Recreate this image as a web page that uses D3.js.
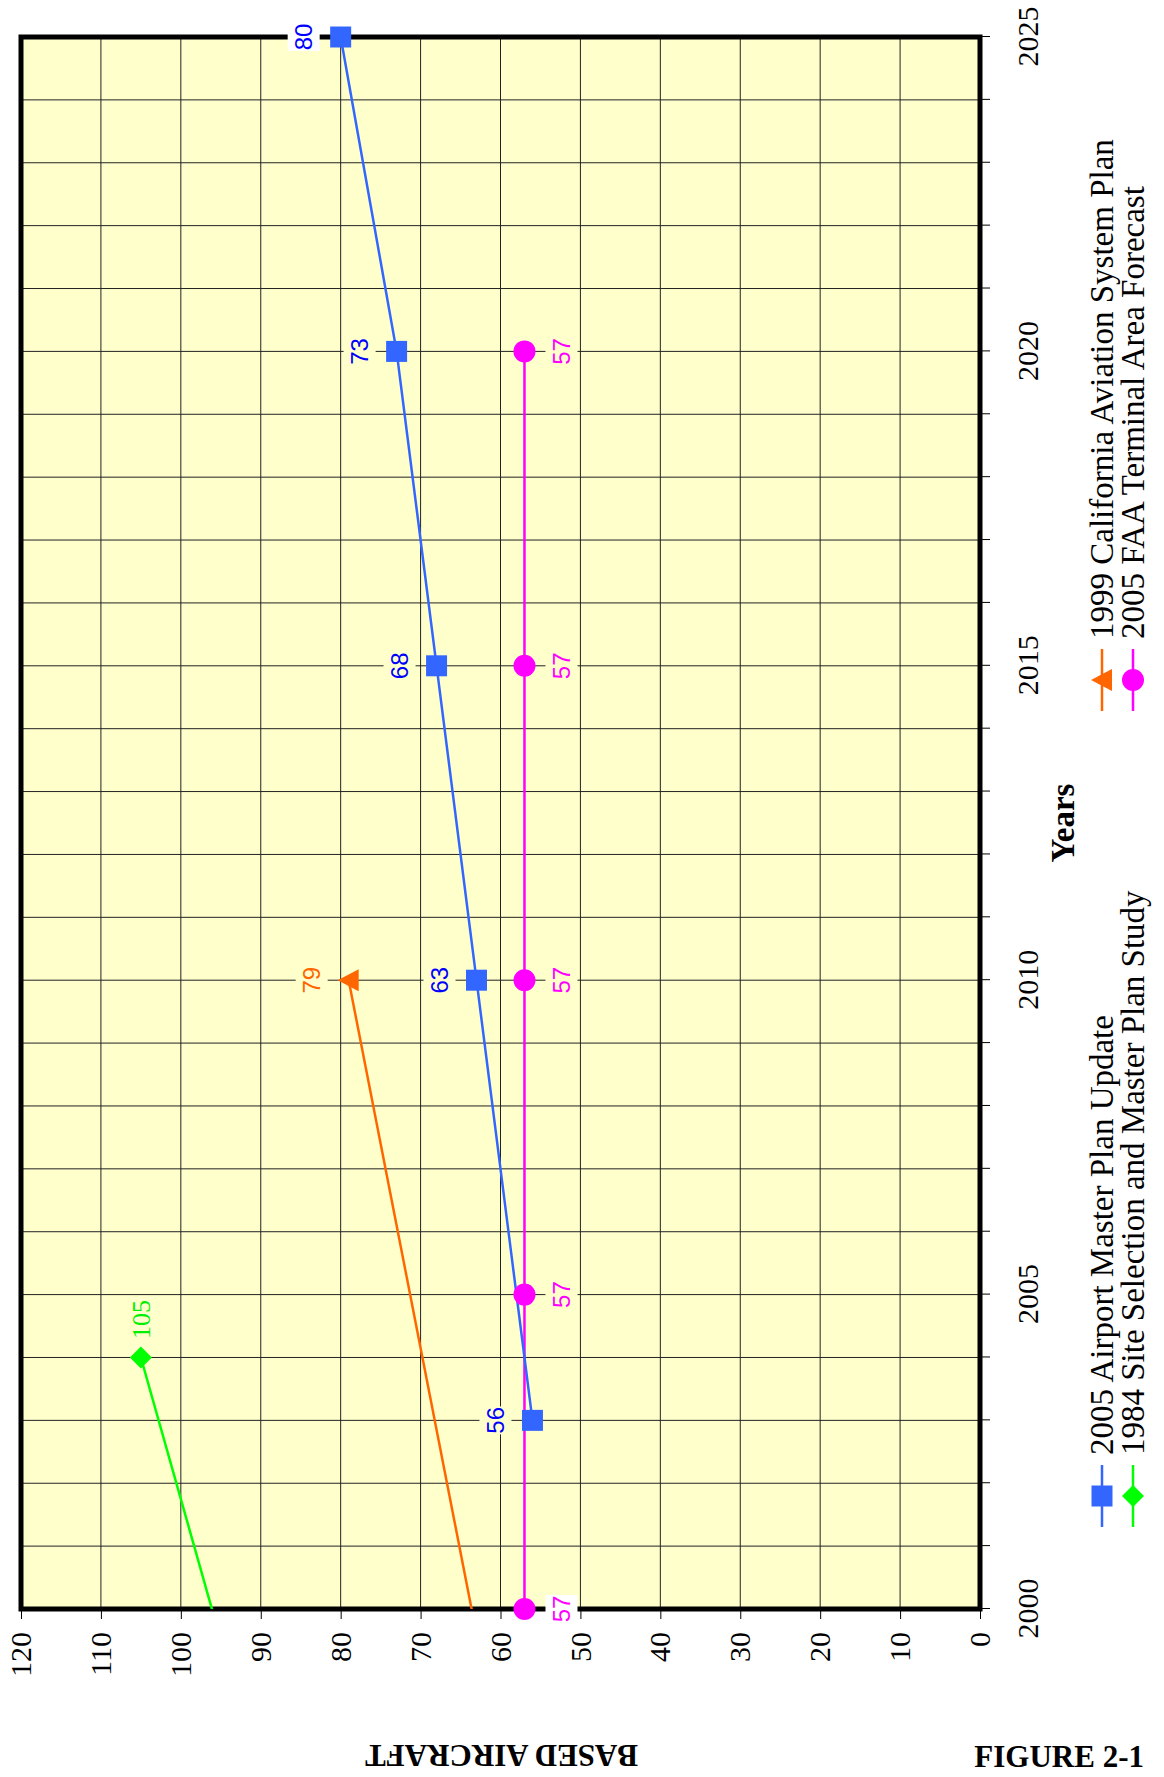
<!DOCTYPE html>
<html>
<head>
<meta charset="utf-8">
<script src="https://cdn.jsdelivr.net/npm/d3@7"></script>
<style>
  body { margin: 0; background: #fff; }
  svg { display: block; }
</style>
</head>
<body>
<div id="chart"></div>
<script>
// values
const ampYears = [2003, 2010, 2015, 2020, 2025];
const ampValues = [56, 63, 68, 73, 80];
const caspYears = [1997, 2010];          // first point lies left of the plot, only the line shows
const caspValues = [59, 79];
const siteYears = [1995, 2004];          // same here
const siteValues = [85, 105];
const tafYears = [2000, 2005, 2010, 2015, 2020];
const tafValues = [57, 57, 57, 57, 57];

const yearLabels = [2000, 2005, 2010, 2015, 2020, 2025];
const valueLabels = [0, 10, 20, 30, 40, 50, 60, 70, 80, 90, 100, 110, 120];
const legendNames = [
  "2005 Airport Master Plan Update",
  "1999 California Aviation System Plan",
  "1984 Site Selection and Master Plan Study",
  "2005 FAA Terminal Area Forecast"
];

const serif = "'Liberation Serif', 'Times New Roman', serif";
const sans = "'Liberation Sans', Arial, sans-serif";
const bgColor = "#FFFFCC";

// chart is drawn unrotated, then the whole group is turned -90deg like the printed page
const W = 1572, H = 959;

const svg = d3.select("#chart").append("svg")
  .attr("width", 1164)
  .attr("height", 1777);

const g = svg.append("g")
  .attr("transform", "translate(21,1609) rotate(-90)");

const x = d3.scaleLinear().domain([2000, 2025]).range([0, W]);
const y = d3.scaleLinear().domain([0, 120]).range([H, 0]);

// series setup
const series = [
  { name: legendNames[3], years: tafYears, values: tafValues, color: "#FF00FF", text: "#FF00FF",
    shape: "circle", side: "below", font: sans },
  { name: legendNames[2], years: siteYears, values: siteValues, color: "#00FF00", text: "#00EE00",
    shape: "diamond", side: "right", font: serif, noBox: true },
  { name: legendNames[1], years: caspYears, values: caspValues, color: "#FF6600", text: "#FF6600",
    shape: "triangle", side: "above", font: sans },
  { name: legendNames[0], years: ampYears, values: ampValues, color: "#3366FF", text: "#0000FF",
    shape: "square", side: "above", font: sans }
];
series.forEach(s => {
  s.points = s.years.map((yr, i) => ({ year: yr, value: s.values[i] }));
});

function shapePath(shape) {
  if (shape === "square") return "M-10.5,-10.5H10.5V10.5H-10.5Z";
  if (shape === "circle") return "M-11,0A11,11 0 1,0 11,0A11,11 0 1,0 -11,0Z";
  if (shape === "diamond") return "M0,-11L11,0L0,11L-11,0Z";
  return "M0,-11L11,10L-11,10Z"; // triangle
}

// background
g.append("rect")
  .attr("width", W)
  .attr("height", H)
  .attr("fill", bgColor);

// grid
g.append("g")
  .selectAll("line")
  .data(d3.range(2000, 2026))
  .join("line")
  .attr("x1", d => x(d)).attr("x2", d => x(d))
  .attr("y1", 0).attr("y2", H)
  .attr("stroke", "#222")
  .attr("stroke-width", 1);

g.append("g")
  .selectAll("line")
  .data(valueLabels)
  .join("line")
  .attr("x1", 0).attr("x2", W)
  .attr("y1", d => y(d)).attr("y2", d => y(d))
  .attr("stroke", "#222")
  .attr("stroke-width", 1);

// axes
const xTicks = g.append("g")
  .attr("transform", `translate(0,${H})`)
  .call(d3.axisBottom(x).tickValues(d3.range(2000, 2026)).tickSize(10).tickFormat(""));
xTicks.select(".domain").remove();

const xLab = g.append("g")
  .attr("transform", `translate(0,${H})`)
  .call(d3.axisBottom(x).tickValues(yearLabels).tickSize(0).tickPadding(37).tickFormat(d3.format("d")));
xLab.select(".domain").remove();
xLab.selectAll("text")
  .attr("font-family", serif)
  .attr("font-size", 30)
  .attr("fill", "#000");

const yAx = g.append("g")
  .call(d3.axisLeft(y).tickValues(valueLabels).tickSize(10).tickPadding(13));
yAx.select(".domain").remove();
yAx.selectAll("text")
  .attr("font-family", serif)
  .attr("font-size", 30)
  .attr("fill", "#000");

// frame
g.append("rect")
  .attr("width", W)
  .attr("height", H)
  .attr("fill", "none")
  .attr("stroke", "#000")
  .attr("stroke-width", 5);

// lines
g.append("clipPath").attr("id", "plotclip")
  .append("rect").attr("width", W).attr("height", H);

const line = d3.line()
  .x(d => x(d.year))
  .y(d => y(d.value));

g.append("g")
  .attr("clip-path", "url(#plotclip)")
  .selectAll("path")
  .data(series)
  .join("path")
  .attr("d", s => line(s.points))
  .attr("fill", "none")
  .attr("stroke", s => s.color)
  .attr("stroke-width", 2.5);

// markers
series.forEach(s => {
  g.append("g")
    .selectAll("path")
    .data(s.points.filter(p => p.year >= 2000 && p.year <= 2025))
    .join("path")
    .attr("transform", p => `translate(${x(p.year)},${y(p.value)})`)
    .attr("d", shapePath(s.shape))
    .attr("fill", s.color);
});

// value labels
series.forEach(s => {
  const lab = g.append("g")
    .selectAll("g")
    .data(s.points.filter(p => p.year >= 2000 && p.year <= 2025))
    .join("g")
    .attr("transform", p => {
      let lx = x(p.year), ly = y(p.value);
      if (s.side === "above") ly -= 37;
      if (s.side === "below") ly += 37;
      if (s.side === "right") lx += 38;
      return `translate(${lx},${ly})`;
    });
  if (!s.noBox) {
    lab.append("rect")
      .attr("x", -14).attr("y", -16)
      .attr("width", 28).attr("height", 32)
      .attr("fill", p => (p.year === 2000 || p.year === 2025) ? "#fff" : bgColor);
  }
  lab.append("text")
    .attr("text-anchor", "middle")
    .attr("dy", "0.35em")
    .attr("font-family", s.font)
    .attr("font-size", s.noBox ? 26 : 24)
    .attr("fill", s.text)
    .text(p => p.value);
});

// axis titles
g.append("text")
  .attr("x", W / 2)
  .attr("y", 1053)
  .attr("text-anchor", "middle")
  .attr("font-family", serif)
  .attr("font-weight", "bold")
  .attr("font-size", 33)
  .text("Years");

g.append("text")
  .attr("transform", `translate(-136,${H / 2 + 1}) rotate(-90)`)
  .attr("text-anchor", "middle")
  .attr("font-family", serif)
  .attr("font-weight", "bold")
  .attr("font-size", 31)
  .text("BASED AIRCRAFT");

// legend (2 x 2)
const legendPos = [
  { s: series[3], lx: 113, ly: 1081 },
  { s: series[2], lx: 929, ly: 1081 },
  { s: series[1], lx: 113, ly: 1112 },
  { s: series[0], lx: 929, ly: 1112 }
];
const leg = g.append("g")
  .selectAll("g")
  .data(legendPos)
  .join("g")
  .attr("transform", d => `translate(${d.lx},${d.ly})`);
leg.append("line")
  .attr("x1", -31).attr("x2", 31)
  .attr("stroke", d => d.s.color)
  .attr("stroke-width", 2.5);
leg.append("path")
  .attr("d", d => shapePath(d.s.shape))
  .attr("fill", d => d.s.color);
leg.append("text")
  .attr("x", 41)
  .attr("dy", "0.34em")
  .attr("font-family", serif)
  .attr("font-size", 33)
  .attr("fill", "#000")
  .text(d => d.s.name);

// figure number, upright on the page
svg.append("text")
  .attr("x", 1144)
  .attr("y", 1767)
  .attr("text-anchor", "end")
  .attr("font-family", serif)
  .attr("font-weight", "bold")
  .attr("font-size", 31)
  .text("FIGURE 2-1");
</script>
</body>
</html>
